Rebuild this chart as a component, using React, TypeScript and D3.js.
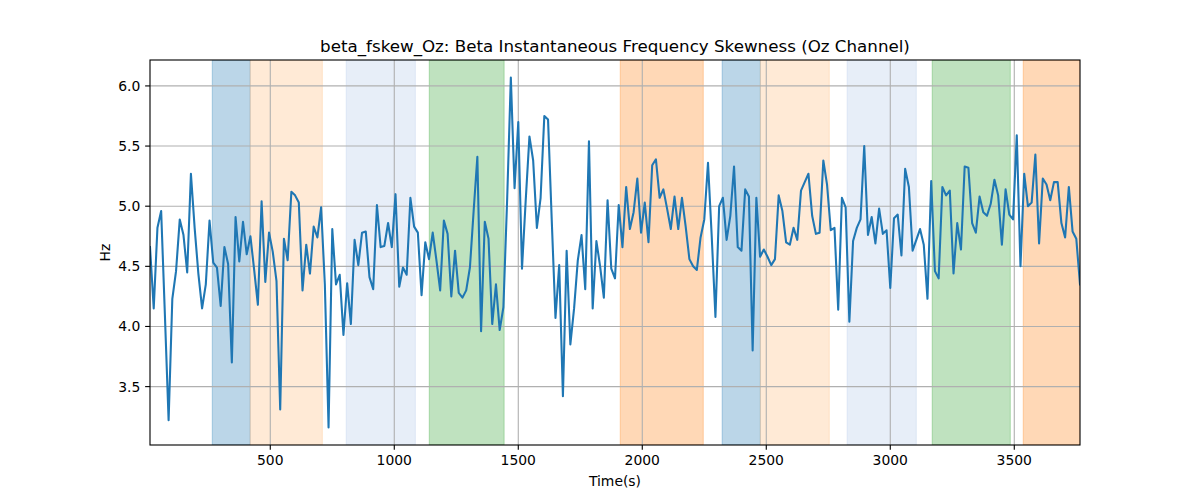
import React from "react";
import * as d3 from "d3";

const W = 1200;
const H = 500;
const M = { left: 150, right: 1080, top: 60, bottom: 445 };
const pt = 100 / 72; // matplotlib points -> px at 100 dpi

// sampling: one value every 15 s
const tStart = 15;
const tStep = 15;

const skew = [
  4.66, 4.15, 4.82, 4.96, 4.1, 3.22, 4.23, 4.46, 4.89, 4.76,
  4.45, 5.27, 4.82, 4.44, 4.15, 4.35, 4.88, 4.53, 4.49, 4.17,
  4.66, 4.52, 3.7, 4.91, 4.54, 4.87, 4.6, 4.75, 4.47, 4.18,
  5.04, 4.37, 4.78, 4.62, 4.38, 3.31, 4.73, 4.55, 5.12, 5.09,
  5.03, 4.3, 4.68, 4.44, 4.83, 4.74, 4.99, 4.35, 3.16, 4.81,
  4.35, 4.43, 3.93, 4.36, 4.02, 4.72, 4.51, 4.78, 4.79, 4.41,
  4.31, 5.01, 4.66, 4.67, 4.86, 4.66, 5.1, 4.33, 4.49, 4.43,
  5.07, 4.83, 4.78, 4.26, 4.7, 4.56, 4.78, 4.55, 4.3, 4.88,
  4.77, 4.25, 4.63, 4.28, 4.24, 4.3, 4.49, 4.96, 5.41, 3.96,
  4.87, 4.73, 4.02, 4.35, 3.97, 4.16, 5.05, 6.07, 5.15, 5.7,
  4.48, 5.05, 5.58, 5.38, 4.82, 5.07, 5.75, 5.72, 4.88, 4.07,
  4.51, 3.42, 4.63, 3.85, 4.15, 4.55, 4.76, 4.31, 5.54, 4.15,
  4.71, 4.5, 4.24, 5.05, 4.48, 4.4, 5.01, 4.66, 5.16, 4.81,
  4.95, 5.23, 4.78, 5.03, 4.7, 5.34, 5.39, 5.07, 5.14, 4.98,
  4.81, 5.08, 4.81, 5.07, 4.83, 4.56, 4.5, 4.47, 4.74, 4.89,
  5.36, 4.75, 4.08, 5.0, 5.07, 4.72, 4.92, 5.33, 4.66, 4.63,
  5.14, 5.08, 3.8, 5.07, 4.58, 4.64, 4.58, 4.51, 4.56, 5.09,
  4.96, 4.7, 4.68, 4.82, 4.72, 5.13, 5.2, 5.27, 4.92, 4.77,
  4.78, 5.38, 5.18, 4.8, 4.82, 4.14, 5.07, 4.99, 4.04, 4.71,
  4.82, 4.89, 5.5, 4.76, 4.91, 4.69, 4.98, 4.77, 4.8, 4.32,
  4.9, 4.93, 4.59, 5.31, 5.16, 4.63, 4.72, 4.81, 4.68, 4.23,
  5.21, 4.46, 4.4, 5.16, 5.09, 5.13, 4.44, 4.86, 4.64, 5.33,
  5.32, 4.86, 4.78, 5.08, 4.95, 4.92, 5.02, 5.22, 5.09, 4.68,
  5.14, 4.93, 4.89, 5.59, 4.5, 5.27, 5.0, 5.03, 5.43, 4.69,
  5.23, 5.18, 5.05, 5.2, 5.2, 4.86, 4.74, 5.16, 4.79, 4.73,
  4.35,
];

const bandStarts = [266, 419, 806, 1141, 1911, 2322, 2476, 2826, 3169, 3536];
const bandEnds = [419, 710, 1085, 1443, 2246, 2476, 2754, 3105, 3484, 3766];
const bandColors = [
  "#1f77b4", "#ffbb78", "#aec7e8", "#2ca02c", "#ff7f0e",
  "#1f77b4", "#ffbb78", "#aec7e8", "#2ca02c", "#ff7f0e",
];

const xTicks = [500, 1000, 1500, 2000, 2500, 3000, 3500];
const yTicks = [3.5, 4.0, 4.5, 5.0, 5.5, 6.0];

const font = "DejaVu Sans, sans-serif";

export default function App() {
  const times = skew.map((_, i) => tStart + i * tStep);
  const pts = times.map((t, i) => [t, skew[i]] as [number, number]);

  const x = d3
    .scaleLinear()
    .domain([times[0], times[times.length - 1]])
    .range([M.left, M.right]);

  const [lo, hi] = d3.extent(skew) as [number, number];
  const pad = (hi - lo) * 0.05;
  const y = d3
    .scaleLinear()
    .domain([lo - pad, hi + pad])
    .range([M.bottom, M.top]);

  const line = d3
    .line<[number, number]>()
    .x((d) => x(d[0]))
    .y((d) => y(d[1]));

  const tickLen = 3.5 * pt;

  return (
    <svg
      width={W}
      height={H}
      style={{ position: "absolute", left: 0, top: 0, background: "#fff" }}
      fontFamily={font}
    >
      <defs>
        <clipPath id="plot">
          <rect x={M.left} y={M.top} width={M.right - M.left} height={M.bottom - M.top} />
        </clipPath>
      </defs>

      <g clipPath="url(#plot)">
        {bandStarts.map((s, i) => (
          <rect
            key={i}
            x={x(s)}
            y={M.top}
            width={x(bandEnds[i]) - x(s)}
            height={M.bottom - M.top}
            fill={bandColors[i]}
            fillOpacity={0.3}
            stroke={bandColors[i]}
            strokeOpacity={0.3}
            strokeWidth={1}
          />
        ))}

        {xTicks.map((t) => (
          <line key={t} x1={x(t)} x2={x(t)} y1={M.top} y2={M.bottom} stroke="#b0b0b0" strokeWidth={0.8 * pt} />
        ))}
        {yTicks.map((t) => (
          <line key={t} x1={M.left} x2={M.right} y1={y(t)} y2={y(t)} stroke="#b0b0b0" strokeWidth={0.8 * pt} />
        ))}

        <path d={line(pts) || ""} fill="none" stroke="#1f77b4" strokeWidth={1.5 * pt} strokeLinejoin="round" strokeLinecap="square" />
      </g>

      <rect
        x={M.left}
        y={M.top}
        width={M.right - M.left}
        height={M.bottom - M.top}
        fill="none"
        stroke="#000"
        strokeWidth={0.8 * pt}
      />

      {xTicks.map((t) => (
        <g key={t}>
          <line x1={x(t)} x2={x(t)} y1={M.bottom} y2={M.bottom + tickLen} stroke="#000" strokeWidth={0.8 * pt} />
          <text x={x(t)} y={M.bottom + 2 * tickLen + 10.5} textAnchor="middle" fontSize={13.9} fill="#000">
            {t}
          </text>
        </g>
      ))}
      {yTicks.map((t) => (
        <g key={t}>
          <line x1={M.left - tickLen} x2={M.left} y1={y(t)} y2={y(t)} stroke="#000" strokeWidth={0.8 * pt} />
          <text x={M.left - 2 * tickLen} y={y(t) + 5} textAnchor="end" fontSize={13.9} fill="#000">
            {t.toFixed(1)}
          </text>
        </g>
      ))}

      <text x={(M.left + M.right) / 2} y={486} textAnchor="middle" fontSize={13.9}>
        Time(s)
      </text>
      <text
        transform={`translate(110,${(M.top + M.bottom) / 2}) rotate(-90)`}
        textAnchor="middle"
        fontSize={13.9}
      >
        Hz
      </text>
      <text x={(M.left + M.right) / 2} y={52} textAnchor="middle" fontSize={16.7}>
        beta_fskew_Oz: Beta Instantaneous Frequency Skewness (Oz Channel)
      </text>
    </svg>
  );
}
